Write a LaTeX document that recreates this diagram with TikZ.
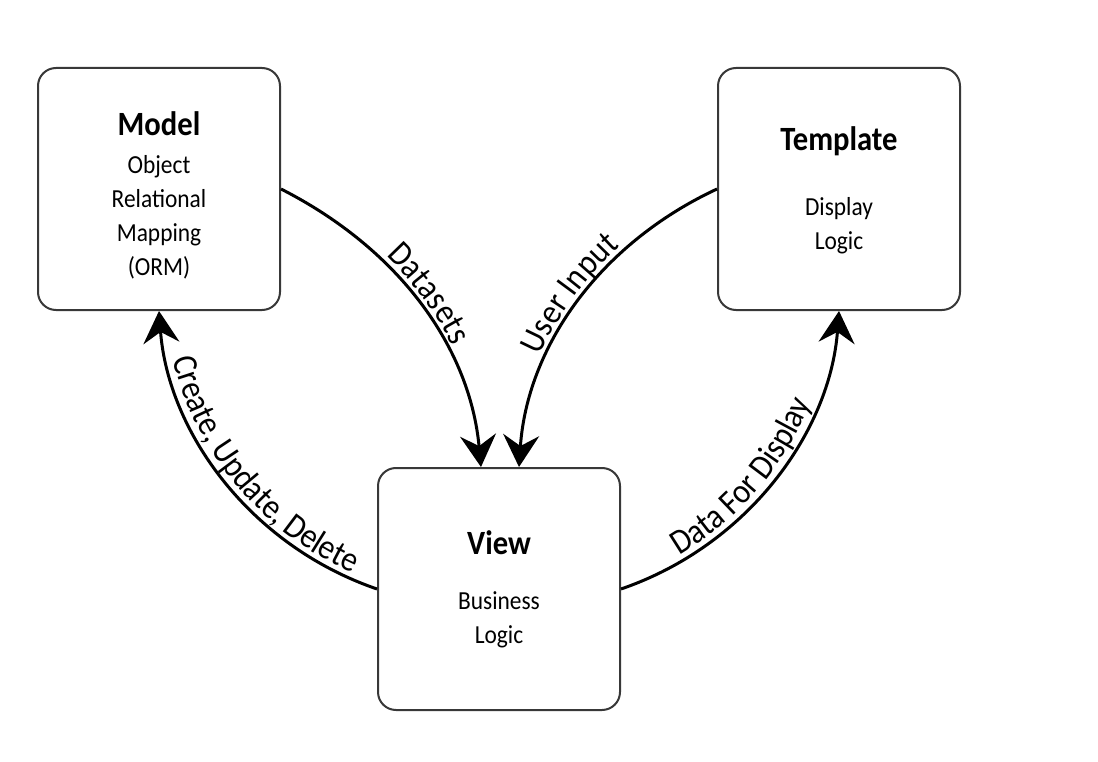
\documentclass[tikz,border=0pt]{standalone}
\usepackage{fontspec}
\setmainfont{Carlito}[FakeStretch=0.9]
\usetikzlibrary{arrows.meta,decorations.text}
\newcommand\mvcBody{\fontsize{26}{34}\selectfont}
\newcommand\mvcTitle{\fontsize{34}{40}\selectfont\bfseries}
\newcommand\mvcLabel{\fontsize{35}{40}\selectfont}
\begin{document}
\begin{tikzpicture}[x=1pt,y=-1pt,
  box/.style={draw=black!78,line width=2pt,rounded corners=18pt,
    minimum width=242pt,minimum height=242pt,inner sep=0pt},
  title/.style={font=\mvcTitle,inner sep=0pt},
  body/.style={font=\mvcBody,align=center,inner sep=0pt},
  flow/.style={line width=3pt,-{Stealth[length=32pt,width=36pt,inset=11pt]}},
  lbl/.style={decorate,decoration={text along path,text align={#1},
    raise=6pt}},
  lbl/.default={center}
]
\path[use as bounding box] (0,0) rectangle (1098,762);

\node[box] (model) at (159,189) {};
\node[box] (template) at (839,189) {};
\node[box] (view) at (499,589) {};

\node[title] (modelT) at (159,124) {Model};
\node[body] (modelB) at (159,217) {Object\\Relational\\Mapping\\(ORM)};
\node[title] (templateT) at (839,141) {Template};
\node[body] (templateB) at (839,226) {Display\\Logic};
\node[title] (viewT) at (499,543) {View};
\node[body] (viewB) at (499,620) {Business\\Logic};

% connectors
\draw[flow] (model.east) .. controls +(120,61) and +(-11,-118) .. ([xshift=-18pt]view.north);
\draw[flow] (template.west) .. controls +(-120,56) and +(8,-118) .. ([xshift=20pt]view.north);
\draw[flow] (view.west) .. controls +(-128,-44) and +(9,120) .. (model.south);
\draw[flow] (view.east) .. controls +(128,-44) and +(-9,120) .. (template.south);

% labels along the connectors
\path[lbl,decoration={text={|\mvcLabel|Datasets}}]
  (model.east) .. controls +(120,61) and +(-11,-118) .. ([xshift=-18pt]view.north);
\path[lbl,decoration={text={|\mvcLabel|User Input}}]
  ([xshift=20pt]view.north) .. controls +(8,-118) and +(-120,56) .. (template.west);
\path[lbl={center,left indent=22pt},decoration={text={|\mvcLabel|Create, Update, Delete}}]
  (model.south) .. controls +(9,120) and +(-128,-44) .. (view.west);
\path[lbl={center,right indent=30pt},decoration={text={|\mvcLabel|Data For Display}}]
  (view.east) .. controls +(128,-44) and +(-9,120) .. (template.south);
\end{tikzpicture}
\end{document}
